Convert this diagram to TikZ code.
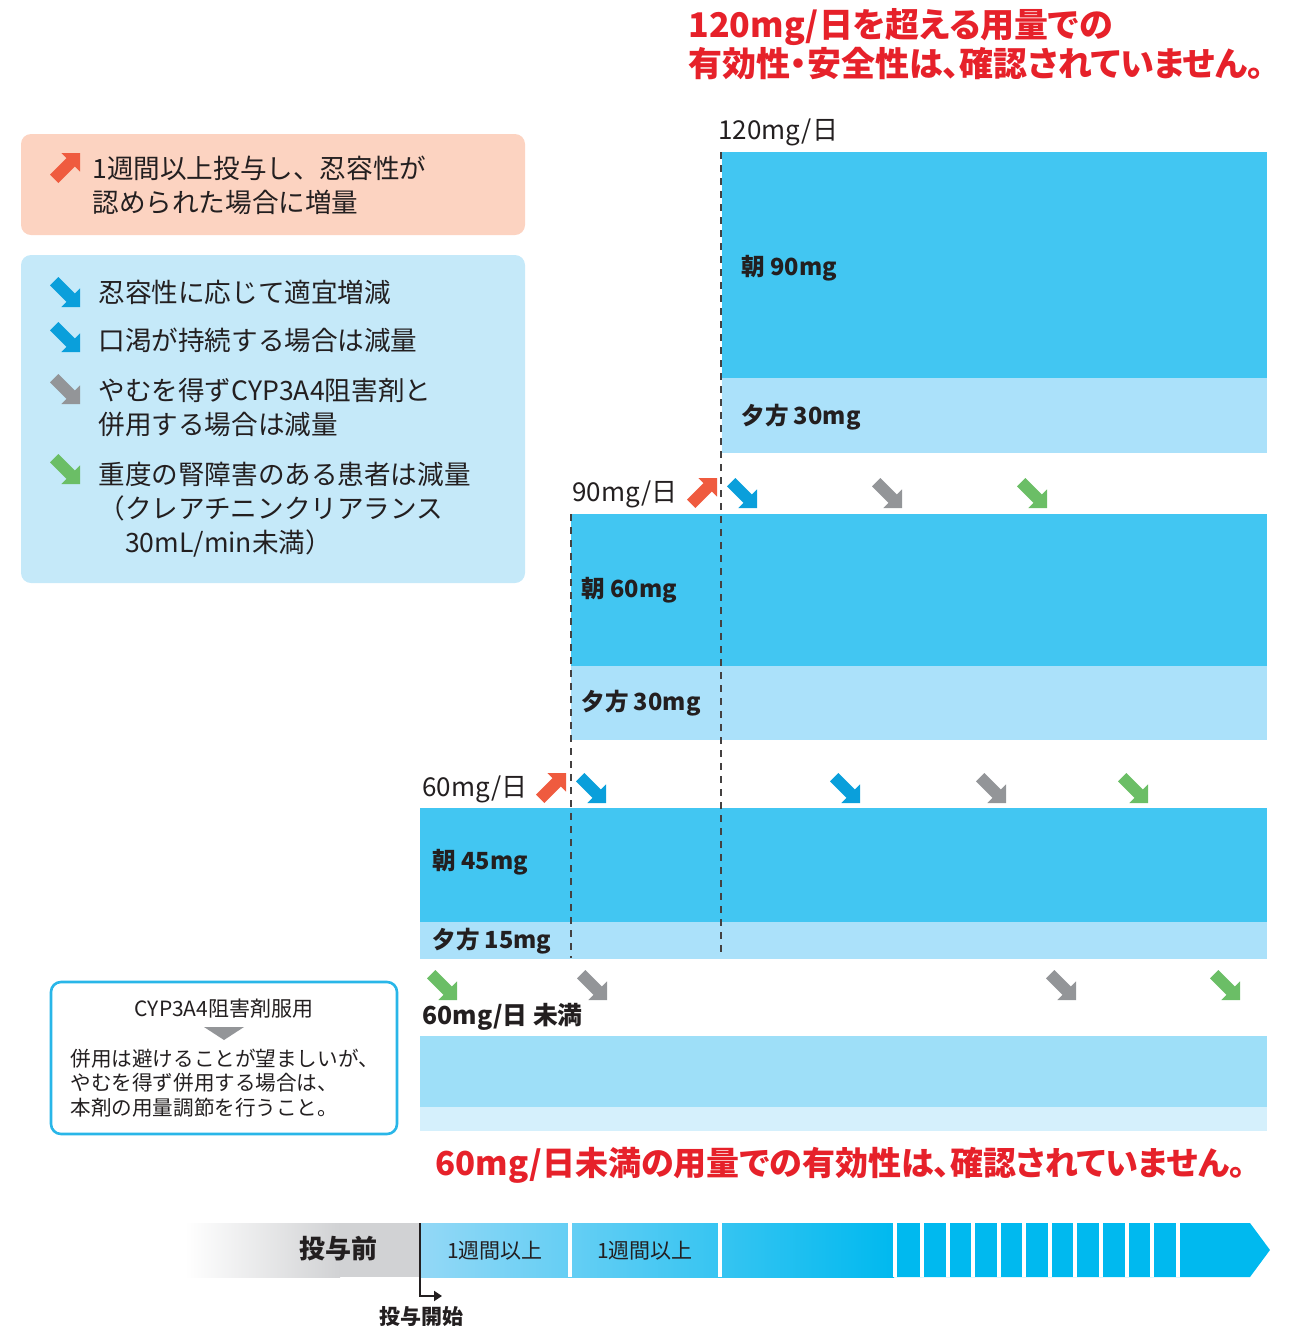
\documentclass[tikz,border=0pt]{standalone}
\usepackage{fontspec}
\setmainfont{Noto Sans CJK JP}
\newfontfamily\redjp{Noto Sans CJK JP}[RawFeature=+palt]
\usetikzlibrary{arrows.meta}

\definecolor{ink}{HTML}{231F20}
\definecolor{morn}{HTML}{42C6F2}
\definecolor{eve}{HTML}{ABE1FA}
\definecolor{lowtop}{HTML}{9EDFF8}
\definecolor{lowbot}{HTML}{D5F0FC}
\definecolor{legred}{HTML}{FCD3C1}
\definecolor{legblue}{HTML}{C5E9F9}
\definecolor{arred}{HTML}{EF5B3F}
\definecolor{arblue}{HTML}{0A9FDB}
\definecolor{argray}{HTML}{939598}
\definecolor{argreen}{HTML}{6BBE66}
\definecolor{redtxt}{HTML}{E6212A}
\definecolor{boxcyan}{HTML}{29B6E8}
\definecolor{tlgray}{HTML}{D1D2D4}
\definecolor{tlblue}{HTML}{00B9EF}
\definecolor{tlpale}{HTML}{93D8F6}

\tikzset{
  pics/dnarrow/.style={code={
    \fill[#1] (0,0) -- (0,-18.6) -- (-5.1,-13.5) -- (-21.6,-30) -- (-30,-21.6)
      -- (-13.5,-5.1) -- (-18.6,0) -- cycle;}},
  pics/uparrow/.style={code={
    \fill[#1] (0,0) -- (0,18.6) -- (-5.1,13.5) -- (-21.6,30) -- (-30,21.6)
      -- (-13.5,5.1) -- (-18.6,0) -- cycle;}}
}

\begin{document}
\begin{tikzpicture}[x=0.5pt, y=-0.5pt,
  every node/.style = {inner sep=0pt, text=ink},
  dose/.style = {anchor=west, font=\fontsize{13}{15}\selectfont},
  blk/.style = {anchor=west, font=\bfseries\fontsize{11.8}{15}\selectfont},
  legend/.style = {anchor=west, align=left, font=\fontsize{13.3}{17}\selectfont},
  warn/.style = {anchor=west, align=left, text=redtxt,
    font=\redjp\bfseries\fontsize{17}{18.5}\selectfont},
  dline/.style = {draw=ink!85, line width=0.7pt, dash pattern=on 3.5pt off 3pt},
  gap/.style = {draw=white, line width=2pt}]
  \useasboundingbox (0,0) rectangle (1301,1329);

  % warning on top
  \node[warn] (warntop) at (688,44) {120mg/日を超える用量での\\有効性・安全性は、確認されていません。};

  % legend boxes
  \fill[legred, rounded corners=5pt] (21,134) rectangle (525,235);
  \pic at (80,153) {uparrow=arred};
  \node[legend] (legup) at (92,185) {1週間以上投与し、忍容性が\\認められた場合に増量};
  \fill[legblue, rounded corners=5pt] (21,255) rectangle (525,583);
  \pic at (80,307) {dnarrow=arblue};
  \node[legend] (leg1) at (98,292) {忍容性に応じて適宜増減};
  \pic at (80,352) {dnarrow=arblue};
  \node[legend] (leg2) at (98,340) {口渇が持続する場合は減量};
  \pic at (80,404) {dnarrow=argray};
  \node[legend] (leg3) at (98,407) {やむを得ずCYP3A4阻害剤と\\併用する場合は減量};
  \pic at (80,484) {dnarrow=argreen};
  \node[legend] (leg4) at (98,510) {重度の腎障害のある患者は減量\\（クレアチニンクリアランス\\\hspace*{1em}30mL/min未満）};

  % 120mg
  \node[dose] (d120) at (718,132) {120mg/日};
  \fill[morn] (722,152) rectangle (1267,378);
  \fill[eve] (722,378) rectangle (1267,453);
  \node[blk] (m120) at (741,268) {朝 90mg};
  \node[blk] (e120) at (741,417) {夕方 30mg};

  % 90mg
  \node[dose] (d90) at (572,494) {90mg/日};
  \pic at (717,478) {uparrow=arred};
  \pic at (757,508) {dnarrow=arblue};
  \pic at (902,508) {dnarrow=argray};
  \pic at (1047,508) {dnarrow=argreen};
  \fill[morn] (571,514) rectangle (1267,666);
  \fill[eve] (571,666) rectangle (1267,740);
  \node[blk] (m90) at (581,590) {朝 60mg};
  \node[blk] (e90) at (581,703) {夕方 30mg};

  % 60mg
  \node[dose] (d60) at (422,789) {60mg/日};
  \pic at (566,773) {uparrow=arred};
  \pic at (606,803) {dnarrow=arblue};
  \pic at (860,803) {dnarrow=arblue};
  \pic at (1006,803) {dnarrow=argray};
  \pic at (1148,803) {dnarrow=argreen};
  \fill[morn] (420,808) rectangle (1267,922);
  \fill[eve] (420,922) rectangle (1267,959);
  \node[blk] (m60) at (432,862) {朝 45mg};
  \node[blk] (e60) at (432,941) {夕方 15mg};

  % dashed step lines
  \coordinate (s120a) at (721,152);
  \coordinate (s120b) at (721,958);
  \coordinate (s90a) at (571,514);
  \coordinate (s90b) at (571,958);
  \draw[dline] (s120a) -- (s120b);
  \draw[dline] (s90a) -- (s90b);

  % below 60mg
  \pic at (457,1000) {dnarrow=argreen};
  \pic at (607,1000) {dnarrow=argray};
  \pic at (1076,1000) {dnarrow=argray};
  \pic at (1240,1000) {dnarrow=argreen};
  \node[blk, font=\bfseries\fontsize{12.4}{15}\selectfont] (dlow) at (422,1017) {60mg/日 未満};
  \fill[lowtop] (420,1036) rectangle (1267,1107);
  \fill[lowbot] (420,1107) rectangle (1267,1131);
  \node[warn, font=\redjp\bfseries\fontsize{16.5}{18.5}\selectfont] (warnlow) at (435,1165)
    {60mg/日未満の用量での有効性は、確認されていません。};

  % CYP3A4 note
  \draw[boxcyan, line width=1.3pt, rounded corners=5pt] (51,982) rectangle (397,1134);
  \node[font=\fontsize{10.5}{12}\selectfont] (cyp) at (224,1009) {CYP3A4阻害剤服用};
  \fill[argray] (204,1027) -- (244,1027) -- (224,1040) -- cycle;
  \node[anchor=west, align=left, font=\fontsize{10.3}{12.3}\selectfont] (cyptxt) at (70,1083)
    {併用は避けることが望ましいが、\\やむを得ず併用する場合は、\\本剤の用量調節を行うこと。};

  % time line
  \shade[left color=white, right color=tlgray] (185,1223) rectangle (340,1277);
  \fill[tlgray] (339,1223) rectangle (421,1277);
  \shade[left color=tlpale, right color=tlblue] (421,1223) rectangle (894,1277);
  \fill[tlblue] (893,1223) -- (1250,1223) -- (1270,1250) -- (1250,1277) -- (893,1277) -- cycle;
  \foreach \gx in {570,720,895,921.5,947.5,973,998.5,1024,1049.5,1075,1101,1126.5,1152,1177.5}
    \draw[gap] (\gx,1223) -- (\gx,1277);
  \node[font=\bfseries\fontsize{13}{15}\selectfont] (pre) at (338,1249) {投与前};
  \node[font=\fontsize{10.5}{12}\selectfont] (wk1) at (495,1251) {1週間以上};
  \node[font=\fontsize{10.5}{12}\selectfont] (wk2) at (645,1251) {1週間以上};
  \coordinate (st0) at (420,1223);
  \coordinate (st1) at (442,1296);
  \draw[ink, line width=1.3pt, -{Triangle[length=4pt, width=5pt]}] (st0) |- (st1);
  \node[font=\bfseries\fontsize{10.5}{12}\selectfont] (start) at (421,1317) {投与開始};
\end{tikzpicture}
\end{document}
